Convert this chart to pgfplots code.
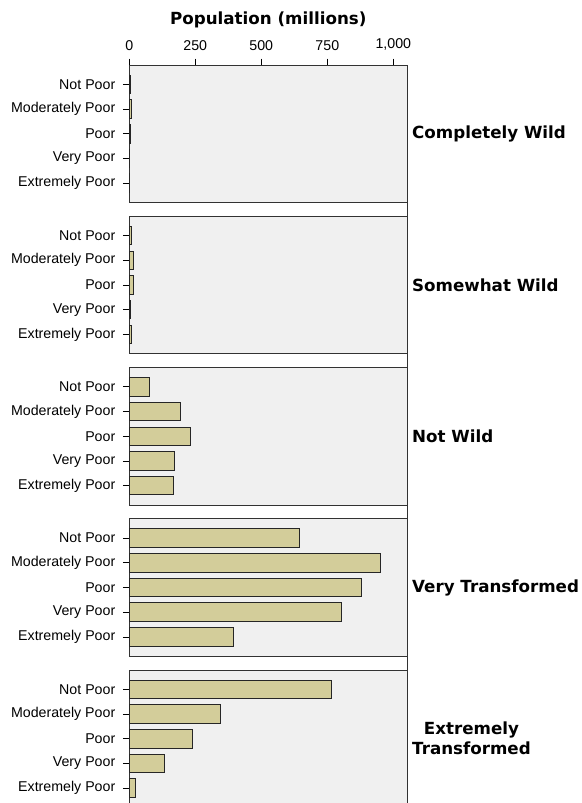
\documentclass[border=0pt]{standalone}
\usepackage{fontspec}
\setmainfont{Liberation Sans}
\newfontfamily\dvs{DejaVu Sans}
\usepackage{pgfplots}
\pgfplotsset{compat=1.18}
\definecolor{barfill}{RGB}{211,205,154}
\definecolor{panelbg}{RGB}{240,240,240}
\definecolor{framecol}{RGB}{50,50,50}
\newcommand{\labfont}{\fontsize{14.2}{16}\selectfont}
\newcommand{\ttlfont}{\dvs\bfseries\fontsize{16.7}{20}\selectfont}
\pgfplotsset{
  panel/.style={
    width=278pt, height=137.5pt, scale only axis,
    anchor=north west,
    xmin=0, xmax=1053, ymin=-0.78, ymax=4.78, y dir=reverse,
    axis background/.style={fill=panelbg},
    xbar, bar width=18.5pt, bar shift=0pt,
    ytick={0,1,2,3,4},
    yticklabels={Not Poor, Moderately Poor, Poor, Very Poor, Extremely Poor},
    y tick label style={font=\labfont, xshift=-4pt},
    tick align=outside, major tick length=6.5pt,
    ytick pos=left,
    xtick=\empty,
    axis line style={draw=framecol, line width=0.9pt},
    every tick/.style={black, line width=0.9pt},
    clip=false,
  },
  barst/.style={fill=barfill, draw=black!85, line width=1pt},
}
\begin{document}
\begin{tikzpicture}
\path[use as bounding box] (0,0) rectangle (581pt,-803pt);
% panel 1
\begin{axis}[panel, at={(129.3pt,-65pt)},
  xtick={0,250,500,750,1000}, xticklabels={0,250,500,750,{1,000}},
  xtick pos=right, xticklabel pos=right,
  x tick label style={font=\labfont, anchor=south, yshift=4.5pt},
  /pgf/number format/assume math mode=true,
  title={\ttlfont Population (millions)},
  title style={at={(0.5,1)}, anchor=center, yshift=39pt},
]
\addplot[barst] coordinates {(5,0) (8,1) (6,2) (2,3) (2,4)};
\node[font=\ttlfont, anchor=west, inner sep=0pt, xshift=4.7pt] at (rel axis cs:1,0.5) {Completely Wild};
\end{axis}
% panel 2
\begin{axis}[panel, at={(129.3pt,-216.25pt)}]
\addplot[barst] coordinates {(9,0) (17,1) (17,2) (5,3) (10,4)};
\node[font=\ttlfont, anchor=west, inner sep=0pt, xshift=4.7pt] at (rel axis cs:1,0.5) {Somewhat Wild};
\end{axis}
% panel 3
\begin{axis}[panel, at={(129.3pt,-367.5pt)}]
\addplot[barst] coordinates {(77,0) (193,1) (231,2) (170,3) (168,4)};
\node[font=\ttlfont, anchor=west, inner sep=0pt, xshift=4.7pt] at (rel axis cs:1,0.5) {Not Wild};
\end{axis}
% panel 4
\begin{axis}[panel, at={(129.3pt,-518.75pt)}]
\addplot[barst] coordinates {(643,0) (953,1) (878,2) (802,3) (395,4)};
\node[font=\ttlfont, anchor=west, inner sep=0pt, xshift=4.7pt] at (rel axis cs:1,0.5) {Very Transformed};
\end{axis}
% panel 5
\begin{axis}[panel, at={(129.3pt,-670pt)}]
\addplot[barst] coordinates {(767,0) (345,1) (239,2) (133,3) (24,4)};
\node[font=\ttlfont, anchor=west, inner sep=0pt, xshift=4.7pt, align=center] at (rel axis cs:1,0.5) {Extremely\\Transformed};
\end{axis}
\draw[framecol, line width=0.9pt] (407.3pt,-65pt) -- (407.3pt,-803pt);
\end{tikzpicture}
\end{document}
